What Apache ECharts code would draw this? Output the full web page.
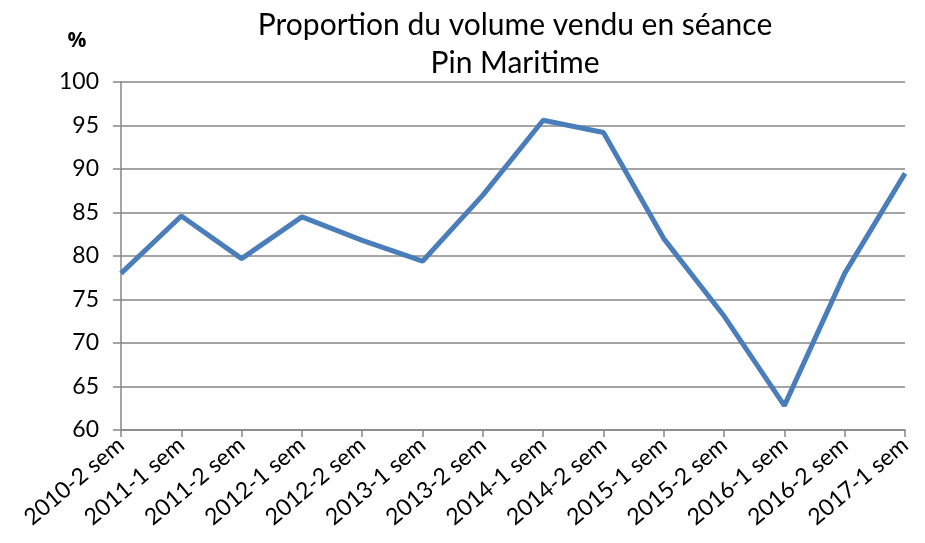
<!DOCTYPE html>
<html>
<head>
<meta charset="utf-8">
<script src="https://cdn.jsdelivr.net/npm/echarts@6/dist/echarts.min.js"></script>
<style>
    html, body { margin: 0; padding: 0; background: #fff; }
    #chart { width: 925px; height: 543px; }
</style>
</head>
<body>
<div id="chart"></div>
<script>
var semestres = ['2010-2 sem', '2011-1 sem', '2011-2 sem', '2012-1 sem', '2012-2 sem', '2013-1 sem', '2013-2 sem',
    '2014-1 sem', '2014-2 sem', '2015-1 sem', '2015-2 sem', '2016-1 sem', '2016-2 sem', '2017-1 sem'];
var proportion = [78.0, 84.6, 79.7, 84.5, 81.8, 79.4, 87.0, 95.6, 94.2, 82.0, 73.1, 62.8, 78.0, 89.5];
var titre = ['Proportion du volume vendu en séance', 'Pin Maritime'];

var police = 'Lato, "Open Sans", sans-serif';
var gris = '#868686';

var myChart = echarts.init(document.getElementById('chart'));
var option = {
    animation: false,
    title: {
        text: titre.join('\n'),
        left: 510,
        top: 1,
        textAlign: 'center',
        textStyle: {
            fontFamily: police,
            fontWeight: 'normal',
            fontSize: 30,
            lineHeight: 38,
            color: '#000'
        }
    },
    grid: {
        left: 121,
        right: 20,
        top: 82,
        bottom: 113
    },
    xAxis: {
        type: 'category',
        data: semestres,
        boundaryGap: false,
        axisLine: { lineStyle: { color: gris, width: 1.5 } },
        axisTick: { show: true, length: 7, lineStyle: { color: gris, width: 1.5 } },
        axisLabel: {
            rotate: 40,
            interval: 0,
            margin: 12,
            fontFamily: police,
            fontSize: 23,
            color: '#000'
        },
        splitLine: { show: false }
    },
    yAxis: {
        type: 'value',
        min: 60,
        max: 100,
        interval: 5,
        name: '%',
        nameLocation: 'end',
        nameGap: 30,
        nameTextStyle: {
            fontFamily: '"Open Sans", "DejaVu Sans", sans-serif',
            fontWeight: 'bold',
            fontSize: 21,
            color: '#000',
            padding: [0, 88, 0, 0]
        },
        axisLine: { show: true, lineStyle: { color: gris, width: 1.5 } },
        axisTick: { show: true, length: 8, lineStyle: { color: gris, width: 1.5 } },
        axisLabel: {
            margin: 22,
            fontFamily: police,
            fontSize: 23,
            color: '#000'
        },
        splitLine: { show: true, lineStyle: { color: gris, width: 1.5 } }
    },
    series: [
        {
            name: 'Proportion',
            type: 'line',
            data: proportion,
            symbol: 'none',
            lineStyle: { color: '#4a7ebb', width: 5 },
            itemStyle: { color: '#4a7ebb' }
        }
    ]
};
myChart.setOption(option);
</script>
</body>
</html>
